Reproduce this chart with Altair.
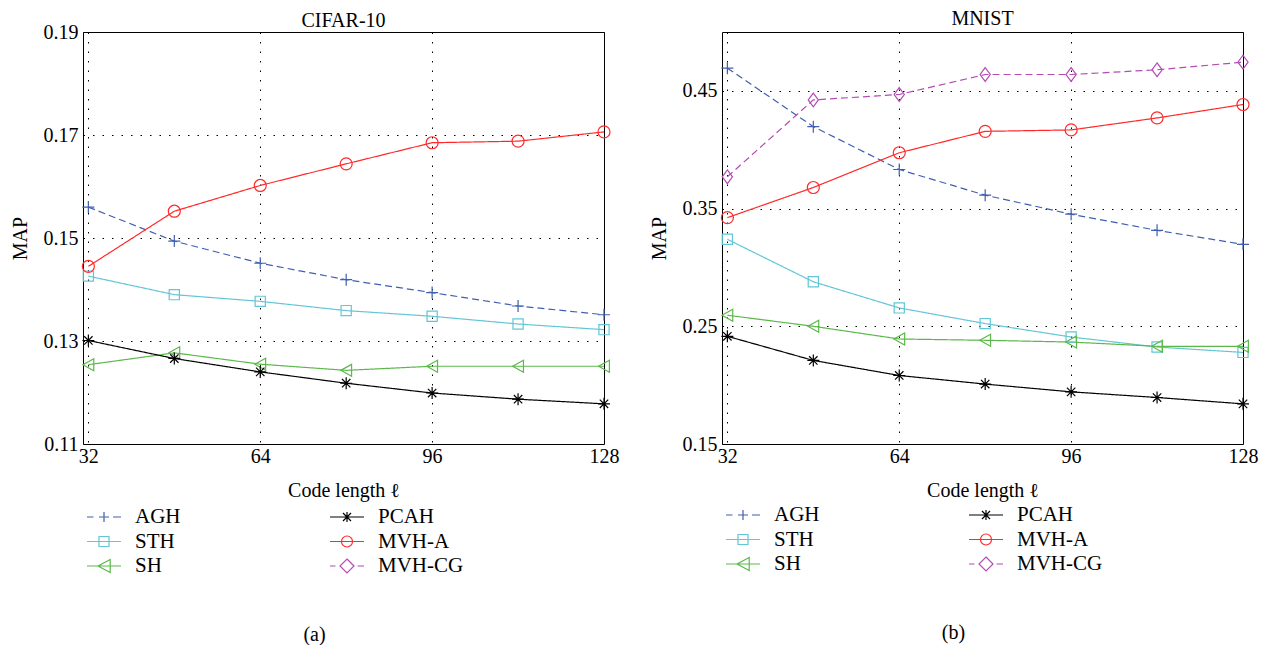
import altair as alt
import pandas as pd

FONT = "Liberation Serif"

code_lengths = [32, 48, 64, 80, 96, 112, 128]
series_order = ["AGH", "STH", "SH", "PCAH", "MVH-A", "MVH-CG"]

# CIFAR-10 (MAP)
cifar_agh = [0.1560, 0.1494, 0.1451, 0.1419, 0.1394, 0.1368, 0.1351]
cifar_sth = [0.1426, 0.1390, 0.1377, 0.1359, 0.1348, 0.1333, 0.1322]
cifar_sh = [0.1254, 0.1277, 0.1255, 0.1243, 0.1251, 0.1251, 0.1251]
cifar_pcah = [0.1301, 0.1266, 0.1240, 0.1218, 0.1199, 0.1187, 0.1178]
cifar_mvha = [0.1445, 0.1552, 0.1602, 0.1644, 0.1685, 0.1688, 0.1706]

# MNIST (MAP)
mnist_agh = [0.4693, 0.4196, 0.3832, 0.3614, 0.3452, 0.3315, 0.3196]
mnist_sth = [0.3239, 0.2878, 0.2656, 0.2523, 0.2409, 0.2324, 0.2278]
mnist_sh = [0.2594, 0.2500, 0.2392, 0.2381, 0.2366, 0.2330, 0.2330]
mnist_pcah = [0.2415, 0.2210, 0.2082, 0.2009, 0.1943, 0.1895, 0.1841]
mnist_mvha = [0.3423, 0.3679, 0.3974, 0.4156, 0.4168, 0.4270, 0.4384]
mnist_mvhcg = [0.3770, 0.4423, 0.4469, 0.4639, 0.4639, 0.4679, 0.4744]

cifar_ticks = [0.11, 0.13, 0.15, 0.17, 0.19]
mnist_ticks = [0.15, 0.25, 0.35, 0.45]
x_ticks = [32, 64, 96, 128]

colors = {
    "AGH": "#3f5fb0",
    "STH": "#62c6d6",
    "SH": "#5cb84a",
    "PCAH": "#000000",
    "MVH-A": "#ff2a2a",
    "MVH-CG": "#b44cb4",
}
dashes = {
    "AGH": [7, 4],
    "STH": [1, 0],
    "SH": [1, 0],
    "PCAH": [1, 0],
    "MVH-A": [1, 0],
    "MVH-CG": [7, 4],
}
marker_paths = {
    "AGH": "M-1,0H1M0,-1V1",
    "STH": "M-0.85,-0.85H0.85V0.85H-0.85Z",
    "SH": "M0.9,-1L-0.9,0L0.9,1Z",
    "PCAH": "M-1,0H1M0,-1V1M-0.7,-0.7L0.7,0.7M-0.7,0.7L0.7,-0.7",
    "MVH-A": "M1,0A1,1,0,1,1,-1,0A1,1,0,1,1,1,0Z",
    "MVH-CG": "M0,-1.15L0.85,0L0,1.15L-0.85,0Z",
}
solid = "M-1.7,0H1.7"
dashed = "M-1.7,0H-1.05M0.9,0H1.7"
legend_paths = {
    "AGH": dashed + "M-0.5,0H0.5M0,-0.5V0.5",
    "STH": solid + "M-0.5,-0.5H0.5V0.5H-0.5Z",
    "SH": solid + "M0.62,-0.65L-0.6,0L0.62,0.65Z",
    "PCAH": solid + "M0,-0.5V0.5M-0.4,-0.4L0.4,0.4M-0.4,0.4L0.4,-0.4",
    "MVH-A": solid + "M0.55,0A0.55,0.55,0,1,1,-0.55,0A0.55,0.55,0,1,1,0.55,0Z",
    "MVH-CG": "M-1.7,0H-1.15M1.05,0H1.7" + "M0,-0.7L0.7,0L0,0.7L-0.7,0Z",
}


def to_long(d):
    rows = []
    for name, vals in d.items():
        for x, v in zip(code_lengths, vals):
            rows.append({"series": name, "legend_series": name, "code": x, "map": v})
    return pd.DataFrame(rows)


cifar_df = to_long({"AGH": cifar_agh, "STH": cifar_sth, "SH": cifar_sh,
                    "PCAH": cifar_pcah, "MVH-A": cifar_mvha})
mnist_df = to_long({"AGH": mnist_agh, "STH": mnist_sth, "SH": mnist_sh,
                    "PCAH": mnist_pcah, "MVH-A": mnist_mvha, "MVH-CG": mnist_mvhcg})

color_scale = alt.Scale(domain=series_order, range=[colors[s] for s in series_order])


def panel(df, title, ydom, yticks, caption, title_offset, legend_y):
    legend = alt.Legend(
        title=None, orient="none", legendX=10, legendY=legend_y, columns=2,
        columnPadding=146, rowPadding=3.5, padding=0, symbolSize=400,
        labelFont=FONT, labelFontSize=21, labelColor="black", labelOffset=20,
        labelLimit=200, symbolStrokeWidth=1.2, symbolOpacity=1,
        symbolFillColor="transparent",
    )
    x = alt.X("code:Q", scale=alt.Scale(domain=[31, 128], nice=False, zero=False),
              axis=alt.Axis(values=x_ticks, title="Code length ℓ", labelFlush=False,
                            labelPadding=2, titlePadding=14))
    y = alt.Y("map:Q", scale=alt.Scale(domain=ydom, nice=False, zero=False),
              axis=alt.Axis(values=yticks, format=".2f", title="MAP", labelFlush=False,
                            labelPadding=5, titlePadding=13))
    color = alt.Color("series:N", scale=color_scale, legend=None)
    lines = alt.Chart(df).mark_line(strokeWidth=1.2).encode(
        x=x, y=y, color=color,
        strokeDash=alt.StrokeDash("series:N", scale=alt.Scale(
            domain=series_order, range=[dashes[s] for s in series_order]), legend=None),
    )
    points = alt.Chart(df).mark_point(filled=False, size=144, strokeWidth=1.2, opacity=1).encode(
        x=x, y=y, color=color,
        shape=alt.Shape("series:N", scale=alt.Scale(
            domain=series_order, range=[marker_paths[s] for s in series_order]), legend=None),
    )
    legend_layer = alt.Chart(df).transform_filter("false").mark_point(
        filled=False, strokeWidth=1.2, opacity=1
    ).encode(
        color=alt.Color("legend_series:N", scale=color_scale, legend=legend),
        shape=alt.Shape("legend_series:N", scale=alt.Scale(
            domain=series_order, range=[legend_paths[s] for s in series_order]), legend=legend),
    )
    layer = alt.layer(alt.layer(lines, points), legend_layer).resolve_scale(
        color="independent", shape="independent"
    ).properties(
        width=521, height=412,
        title=alt.Title(title, font=FONT, fontSize=20, fontWeight="normal", offset=title_offset),
    )
    return alt.vconcat(layer, title=alt.Title(caption, orient="bottom", anchor="middle",
                                              font=FONT, fontSize=20, fontWeight="normal",
                                              offset=48))


left = panel(cifar_df, "CIFAR-10", [0.11, 0.19], cifar_ticks, "(a)", -9, 474)
right = panel(mnist_df, "MNIST", [0.15, 0.50], mnist_ticks, "(b)", 3, 472)

chart = alt.hconcat(left, right, spacing=28).resolve_scale(
    x="independent", y="independent", color="independent",
    shape="independent", strokeDash="independent",
).resolve_legend(color="independent", shape="independent").properties(
    padding={"left": 1, "top": 0, "right": 0, "bottom": 0}
).configure_view(stroke="black", strokeWidth=1).configure_axis(
    labelFont=FONT, labelFontSize=20, labelColor="black",
    titleFont=FONT, titleFontSize=20, titleFontWeight="normal", titleColor="black",
    ticks=False, domain=False,
    grid=True, gridColor="black", gridDash=[1.5, 8], gridWidth=1, gridOpacity=1,
)

chart.save("out.html", embed_options={"renderer": "svg", "actions": False})
